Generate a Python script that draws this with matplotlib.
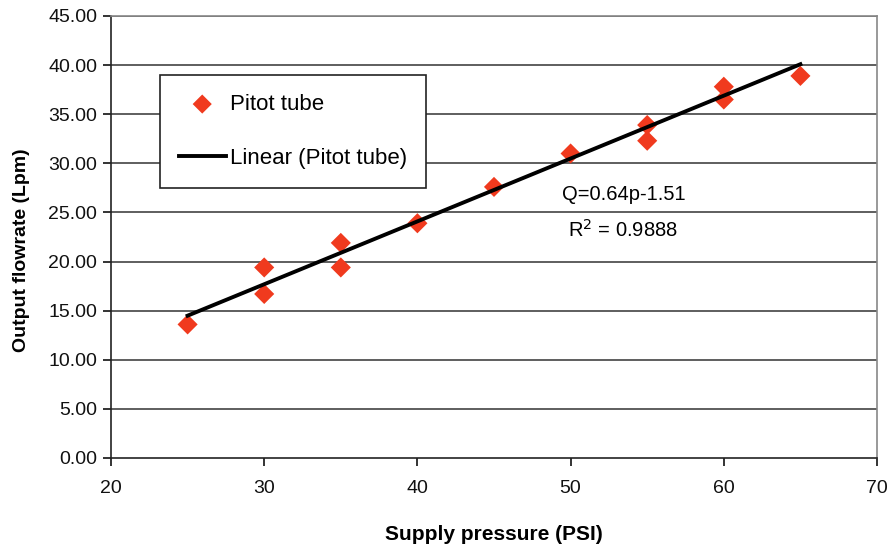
import matplotlib
matplotlib.use("Agg")
import matplotlib.pyplot as plt

pressure = [25, 30, 30, 35, 35, 40, 45, 50, 55, 55, 60, 60, 65]
flowrate = [13.6, 19.4, 16.7, 21.9, 19.4, 23.9, 27.6, 31.0, 33.9, 32.3, 37.8, 36.5, 38.9]
slope, intercept = 0.64, -1.51
fit_x = [25, 65]
y_ticks = [0, 5, 10, 15, 20, 25, 30, 35, 40, 45]
x_ticks = [20, 30, 40, 50, 60, 70]

plt.rcParams['font.family'] = ['Liberation Sans', 'DejaVu Sans']

fig = plt.figure(figsize=(8.91, 5.51), dpi=100)
W, H = 891, 551
ax = fig.add_axes([111 / W, 1 - 458 / H, (877 - 111) / W, (458 - 16) / H])

fy = [slope * x + intercept for x in fit_x]
ax.set_xlim(20, 70)
ax.set_ylim(0, 45)
ax.set_yticks(y_ticks)
ax.set_xticks(x_ticks)
ax.set_yticklabels([f"{v:.2f}" for v in y_ticks])
ax.set_xticklabels([str(v) for v in x_ticks])
for y in y_ticks[1:]:
    ax.axhline(y, color='#333333', lw=1.1, zorder=1)

ax.scatter(pressure, flowrate, marker='D', s=105, color='#f03a1e', zorder=3,
           label='Pitot tube', edgecolors='none')
ax.plot(fit_x, fy, color='black', lw=2.8, zorder=4, label='Linear (Pitot tube)')

for s in ['top', 'right']:
    ax.spines[s].set_color('#888888')
    ax.spines[s].set_linewidth(1.2)
for s in ['left', 'bottom']:
    ax.spines[s].set_color('#222222')
    ax.spines[s].set_linewidth(1.2)
ax.tick_params(axis='both', direction='out', length=6, width=1.2, labelsize=14,
               colors='#111111')
ax.tick_params(axis='y', pad=4)
ax.tick_params(axis='x', pad=10)

fig.text(22 / W, 1 - 250 / H, 'Output flowrate (Lpm)', fontsize=14, fontweight='bold',
         rotation=90, ha='center', va='center')
fig.text(494 / W, 1 - 535 / H, 'Supply pressure (PSI)', fontsize=15, fontweight='bold',
         ha='center', va='center')

fig.text(562 / W, 1 - 195 / H, 'Q=0.64p-1.51', fontsize=14.5, va='center', ha='left')
fig.text(568 / W, 1 - 230 / H, r'R$^2$ = 0.9888', fontsize=14.5, va='center', ha='left')

leg = ax.legend(loc='upper left',
                bbox_to_anchor=((160 - 111) / (877 - 111), (458 - 75) / (458 - 16)),
                fontsize=16, frameon=True, fancybox=False, edgecolor='#222222',
                borderpad=0.85, labelspacing=1.5, handlelength=2.1, handletextpad=0.2,
                borderaxespad=0, scatterpoints=1, markerscale=0.95, framealpha=1)
leg.get_frame().set_linewidth(1.2)

fig.savefig('out.png', dpi=100)
